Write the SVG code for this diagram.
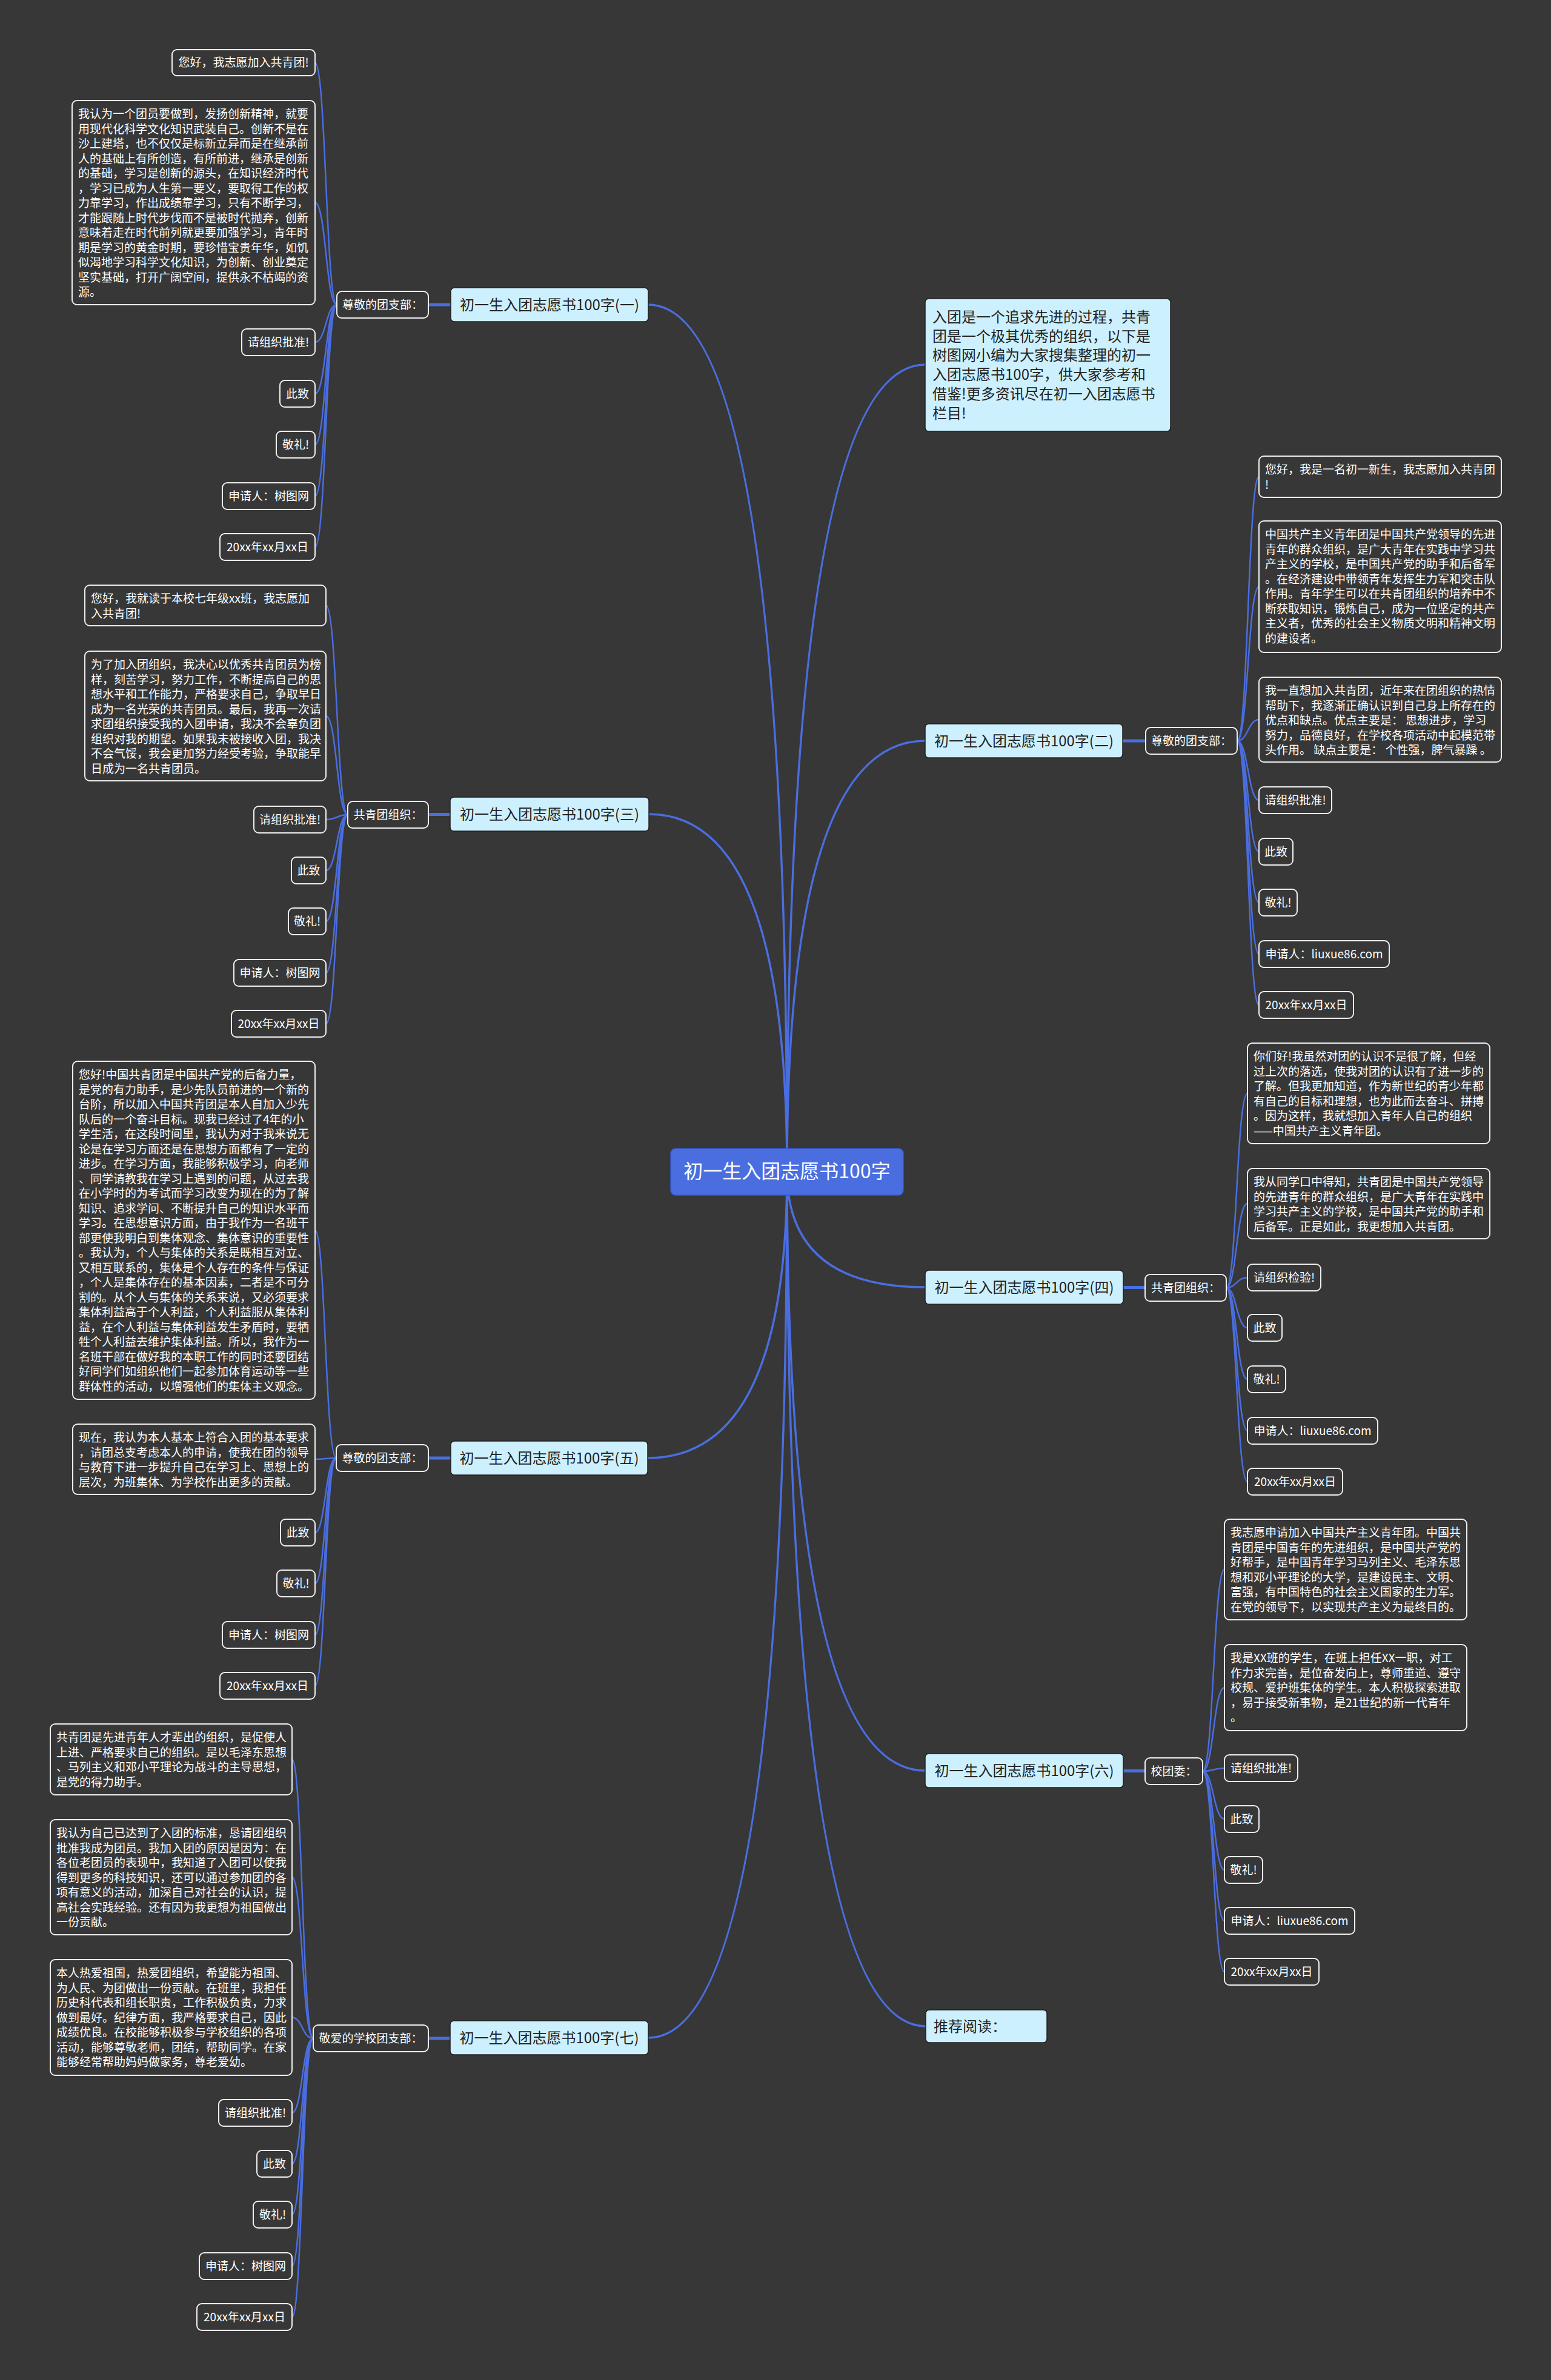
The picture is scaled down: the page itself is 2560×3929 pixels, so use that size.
<svg xmlns="http://www.w3.org/2000/svg" width="2560" height="3929" viewBox="0 0 2560 3929">
<style>
text{font-family:"Noto Sans CJK SC","Microsoft YaHei","Noto Sans",sans-serif}
.leaf rect{fill:#373737;stroke:#eeeeee;stroke-width:2}
.leaf text{fill:#ffffff;font-size:19px}
.c{text-anchor:middle}
.br rect{fill:#cdf0fe;stroke:#1f1f1f;stroke-width:1.5}
.br text{fill:#222222;font-size:24px}
.root rect{fill:#4a6ee0;stroke:#3558c8;stroke-width:1.5}
.root text{fill:#ffffff;font-size:32px;text-anchor:middle}
.main path{fill:none;stroke:#4a6ee0;stroke-width:3.5}
.stem path{fill:none;stroke:#4a6ee0;stroke-width:5}
.sub path{fill:none;stroke:#4a6ee0;stroke-width:2.5}
</style>
<rect width="2560" height="3929" fill="#373737"/>
<g id="connectors">
<g class="main">
<path d="M1299,1934 Q1299,503 1070,503"/>
<path d="M1299,1934 Q1299,602 1527,602"/>
<path d="M1299,1934 Q1299,1223 1527,1223"/>
<path d="M1299,1934 Q1299,1344 1071,1344"/>
<path d="M1299,1934 Q1299,2125 1527,2125"/>
<path d="M1299,1934 Q1299,2407 1069,2407"/>
<path d="M1299,1934 Q1299,2923 1527,2923"/>
<path d="M1299,1934 Q1299,3345 1528,3345"/>
<path d="M1299,1934 Q1299,3364 1070,3364"/>
</g>
<g class="stem">
<path d="M707,503 L744,503"/>
<path d="M1853,1223 L1891,1223"/>
<path d="M707,1344.5 L743,1344.5"/>
<path d="M1854,2125.5 L1890,2125.5"/>
<path d="M707,2407 L744,2407"/>
<path d="M1854,2923.5 L1890,2923.5"/>
<path d="M707,3365 L743,3365"/>
</g>
<g class="sub">
<path d="M556,503 C538,503 538,103.5 520,103.5"/>
<path d="M556,503 C538,503 538,334.5 520,334.5"/>
<path d="M556,503 C538,503 538,565 520,565"/>
<path d="M556,503 C538,503 538,650 520,650"/>
<path d="M556,503 C538,503 538,734 520,734"/>
<path d="M556,503 C538,503 538,819 520,819"/>
<path d="M556,503 C538,503 538,903 520,903"/>

<path d="M2042,1223 C2060,1223 2060,787 2078,787"/>
<path d="M2042,1223 C2060,1223 2060,968.5 2078,968.5"/>
<path d="M2042,1223 C2060,1223 2060,1188 2078,1188"/>
<path d="M2042,1223 C2060,1223 2060,1321 2078,1321"/>
<path d="M2042,1223 C2060,1223 2060,1406 2078,1406"/>
<path d="M2042,1223 C2060,1223 2060,1490 2078,1490"/>
<path d="M2042,1223 C2060,1223 2060,1575 2078,1575"/>
<path d="M2042,1223 C2060,1223 2060,1659 2078,1659"/>

<path d="M574,1345 C556,1345 556,999.5 538,999.5"/>
<path d="M574,1345 C556,1345 556,1182 538,1182"/>
<path d="M574,1345 C556,1345 556,1353 538,1353"/>
<path d="M574,1345 C556,1345 556,1437 538,1437"/>
<path d="M574,1345 C556,1345 556,1521 538,1521"/>
<path d="M574,1345 C556,1345 556,1606 538,1606"/>
<path d="M574,1345 C556,1345 556,1690 538,1690"/>

<path d="M2024,2126 C2041,2126 2041,1805 2059,1805"/>
<path d="M2024,2126 C2041,2126 2041,1987 2059,1987"/>
<path d="M2024,2126 C2041,2126 2041,2109 2059,2109"/>
<path d="M2024,2126 C2041,2126 2041,2192 2059,2192"/>
<path d="M2024,2126 C2041,2126 2041,2277 2059,2277"/>
<path d="M2024,2126 C2041,2126 2041,2362 2059,2362"/>
<path d="M2024,2126 C2041,2126 2041,2446 2059,2446"/>

<path d="M555,2407 C537,2407 537,2031 520,2031"/>
<path d="M555,2407 C537,2407 537,2409 520,2409"/>
<path d="M555,2407 C537,2407 537,2530 520,2530"/>
<path d="M555,2407 C537,2407 537,2614 520,2614"/>
<path d="M555,2407 C537,2407 537,2699 520,2699"/>
<path d="M555,2407 C537,2407 537,2783 520,2783"/>

<path d="M1985,2924 C2003,2924 2003,2591 2021,2591"/>
<path d="M1985,2924 C2003,2924 2003,2786 2021,2786"/>
<path d="M1985,2924 C2003,2924 2003,2919 2021,2919"/>
<path d="M1985,2924 C2003,2924 2003,3003 2021,3003"/>
<path d="M1985,2924 C2003,2924 2003,3087 2021,3087"/>
<path d="M1985,2924 C2003,2924 2003,3171 2021,3171"/>
<path d="M1985,2924 C2003,2924 2003,3255 2021,3255"/>

<path d="M517,3365 C499,3365 499,2904.5 482,2904.5"/>
<path d="M517,3365 C499,3365 499,3099 482,3099"/>
<path d="M517,3365 C499,3365 499,3330.5 482,3330.5"/>
<path d="M517,3365 C499,3365 499,3488 482,3488"/>
<path d="M517,3365 C499,3365 499,3572 482,3572"/>
<path d="M517,3365 C499,3365 499,3656 482,3656"/>
<path d="M517,3365 C499,3365 499,3741 482,3741"/>
<path d="M517,3365 C499,3365 499,3825 482,3825"/>
</g>
</g>

<g id="root" class="root"><rect x="1107" y="1896" width="384" height="77" rx="8"/><text x="1299" y="1945">初一生入团志愿书100字</text></g>

<g id="intro" class="br"><rect x="1527" y="493" width="405" height="219" rx="6"/>
<text x="1539" y="532"><tspan x="1539">入团是一个追求先进的过程，共青</tspan><tspan x="1539" dy="31.7">团是一个极其优秀的组织，以下是</tspan><tspan x="1539" dy="31.7">树图网小编为大家搜集整理的初一</tspan><tspan x="1539" dy="31.7">入团志愿书100字，供大家参考和</tspan><tspan x="1539" dy="31.7">借鉴!更多资讯尽在初一入团志愿书</tspan><tspan x="1539" dy="31.7">栏目!</tspan></text></g>

<!-- Branch 1 -->
<g id="b1" class="br"><rect x="744" y="475" width="326" height="56" rx="6"/><text class="c" x="907" y="511.5">初一生入团志愿书100字(一)</text></g>
<g id="b1s" class="leaf"><rect x="556" y="481" width="151" height="44" rx="8"/><text class="c" x="631.5" y="510">尊敬的团支部：</text></g>
<g id="b1l1" class="leaf"><rect x="284" y="82" width="236" height="43" rx="8"/><text class="c" x="402" y="110">您好，我志愿加入共青团!</text></g>
<g id="b1l2" class="leaf"><rect x="119" y="166" width="401" height="337" rx="8"/><text x="129" y="195"><tspan x="129">我认为一个团员要做到，发扬创新精神，就要</tspan><tspan x="129" dy="24.5">用现代化科学文化知识武装自己。创新不是在</tspan><tspan x="129" dy="24.5">沙上建塔，也不仅仅是标新立异而是在继承前</tspan><tspan x="129" dy="24.5">人的基础上有所创造，有所前进，继承是创新</tspan><tspan x="129" dy="24.5">的基础，学习是创新的源头，在知识经济时代</tspan><tspan x="129" dy="24.5">，学习已成为人生第一要义，要取得工作的权</tspan><tspan x="129" dy="24.5">力靠学习，作出成绩靠学习，只有不断学习，</tspan><tspan x="129" dy="24.5">才能跟随上时代步伐而不是被时代抛弃，创新</tspan><tspan x="129" dy="24.5">意味着走在时代前列就更要加强学习，青年时</tspan><tspan x="129" dy="24.5">期是学习的黄金时期，要珍惜宝贵年华，如饥</tspan><tspan x="129" dy="24.5">似渴地学习科学文化知识，为创新、创业奠定</tspan><tspan x="129" dy="24.5">坚实基础，打开广阔空间，提供永不枯竭的资</tspan><tspan x="129" dy="24.5">源。</tspan></text></g>
<g id="b1l3" class="leaf"><rect x="399" y="543" width="121" height="44" rx="8"/><text class="c" x="459.5" y="572">请组织批准!</text></g>
<g id="b1l4" class="leaf"><rect x="462" y="628" width="58" height="44" rx="8"/><text class="c" x="491" y="657">此致</text></g>
<g id="b1l5" class="leaf"><rect x="456" y="712" width="64" height="44" rx="8"/><text class="c" x="488" y="741">敬礼!</text></g>
<g id="b1l6" class="leaf"><rect x="367" y="797" width="153" height="44" rx="8"/><text class="c" x="443.5" y="826">申请人：树图网</text></g>
<g id="b1l7" class="leaf"><rect x="363" y="881" width="157" height="44" rx="8"/><text class="c" x="441.5" y="910">20xx年xx月xx日</text></g>

<!-- Branch 2 -->
<g id="b2" class="br"><rect x="1527" y="1195" width="326" height="56" rx="6"/><text class="c" x="1690" y="1231.5">初一生入团志愿书100字(二)</text></g>
<g id="b2s" class="leaf"><rect x="1891" y="1201" width="151" height="44" rx="8"/><text class="c" x="1966.5" y="1230">尊敬的团支部：</text></g>
<g id="b2l1" class="leaf"><rect x="2078" y="753" width="400" height="68" rx="8"/><text x="2088" y="782"><tspan x="2088">您好，我是一名初一新生，我志愿加入共青团</tspan><tspan x="2088" dy="24.5">!</tspan></text></g>
<g id="b2l2" class="leaf"><rect x="2078" y="860" width="400" height="217" rx="8"/><text x="2088" y="889"><tspan x="2088">中国共产主义青年团是中国共产党领导的先进</tspan><tspan x="2088" dy="24.5">青年的群众组织，是广大青年在实践中学习共</tspan><tspan x="2088" dy="24.5">产主义的学校，是中国共产党的助手和后备军</tspan><tspan x="2088" dy="24.5">。在经济建设中带领青年发挥生力军和突击队</tspan><tspan x="2088" dy="24.5">作用。青年学生可以在共青团组织的培养中不</tspan><tspan x="2088" dy="24.5">断获取知识，锻炼自己，成为一位坚定的共产</tspan><tspan x="2088" dy="24.5">主义者，优秀的社会主义物质文明和精神文明</tspan><tspan x="2088" dy="24.5">的建设者。</tspan></text></g>
<g id="b2l3" class="leaf"><rect x="2078" y="1118" width="400" height="140" rx="8"/><text x="2088" y="1147"><tspan x="2088">我一直想加入共青团，近年来在团组织的热情</tspan><tspan x="2088" dy="24.5">帮助下，我逐渐正确认识到自己身上所存在的</tspan><tspan x="2088" dy="24.5">优点和缺点。优点主要是：  思想进步，学习</tspan><tspan x="2088" dy="24.5">努力，品德良好，在学校各项活动中起模范带</tspan><tspan x="2088" dy="24.5">头作用。 缺点主要是： 个性强，脾气暴躁 。</tspan></text></g>
<g id="b2l4" class="leaf"><rect x="2078" y="1299" width="120" height="44" rx="8"/><text class="c" x="2138" y="1328">请组织批准!</text></g>
<g id="b2l5" class="leaf"><rect x="2078" y="1384" width="56" height="44" rx="8"/><text class="c" x="2106" y="1413">此致</text></g>
<g id="b2l6" class="leaf"><rect x="2078" y="1468" width="63" height="44" rx="8"/><text class="c" x="2109.5" y="1497">敬礼!</text></g>
<g id="b2l7" class="leaf"><rect x="2078" y="1553" width="215" height="44" rx="8"/><text class="c" x="2185.5" y="1582">申请人：liuxue86.com</text></g>
<g id="b2l8" class="leaf"><rect x="2078" y="1637" width="156" height="44" rx="8"/><text class="c" x="2156" y="1666">20xx年xx月xx日</text></g>

<!-- Branch 3 -->
<g id="b3" class="br"><rect x="743" y="1316" width="328" height="56" rx="6"/><text class="c" x="907" y="1352.5">初一生入团志愿书100字(三)</text></g>
<g id="b3s" class="leaf"><rect x="574" y="1323" width="133" height="44" rx="8"/><text class="c" x="640.5" y="1352">共青团组织：</text></g>
<g id="b3l1" class="leaf"><rect x="140" y="966" width="398" height="67" rx="8"/><text x="150" y="995"><tspan x="150">您好，我就读于本校七年级xx班，我志愿加</tspan><tspan x="150" dy="24.5">入共青团!</tspan></text></g>
<g id="b3l2" class="leaf"><rect x="140" y="1075" width="398" height="214" rx="8"/><text x="150" y="1104"><tspan x="150">为了加入团组织，我决心以优秀共青团员为榜</tspan><tspan x="150" dy="24.5">样，刻苦学习，努力工作，不断提高自己的思</tspan><tspan x="150" dy="24.5">想水平和工作能力，严格要求自己，争取早日</tspan><tspan x="150" dy="24.5">成为一名光荣的共青团员。最后，我再一次请</tspan><tspan x="150" dy="24.5">求团组织接受我的入团申请，我决不会辜负团</tspan><tspan x="150" dy="24.5">组织对我的期望。如果我未被接收入团，我决</tspan><tspan x="150" dy="24.5">不会气馁，我会更加努力经受考验，争取能早</tspan><tspan x="150" dy="24.5">日成为一名共青团员。</tspan></text></g>
<g id="b3l3" class="leaf"><rect x="419" y="1331" width="119" height="44" rx="8"/><text class="c" x="478.5" y="1360">请组织批准!</text></g>
<g id="b3l4" class="leaf"><rect x="481" y="1415" width="57" height="44" rx="8"/><text class="c" x="509.5" y="1444">此致</text></g>
<g id="b3l5" class="leaf"><rect x="476" y="1499" width="62" height="44" rx="8"/><text class="c" x="507" y="1528">敬礼!</text></g>
<g id="b3l6" class="leaf"><rect x="386" y="1584" width="152" height="44" rx="8"/><text class="c" x="462" y="1613">申请人：树图网</text></g>
<g id="b3l7" class="leaf"><rect x="382" y="1668" width="156" height="44" rx="8"/><text class="c" x="460" y="1697">20xx年xx月xx日</text></g>

<!-- Branch 4 -->
<g id="b4" class="br"><rect x="1527" y="2097" width="327" height="56" rx="6"/><text class="c" x="1690.5" y="2133.5">初一生入团志愿书100字(四)</text></g>
<g id="b4s" class="leaf"><rect x="1890" y="2104" width="134" height="44" rx="8"/><text class="c" x="1957" y="2133">共青团组织：</text></g>
<g id="b4l1" class="leaf"><rect x="2059" y="1722" width="400" height="166" rx="8"/><text x="2069" y="1751"><tspan x="2069">你们好!我虽然对团的认识不是很了解，但经</tspan><tspan x="2069" dy="24.5">过上次的落选，使我对团的认识有了进一步的</tspan><tspan x="2069" dy="24.5">了解。但我更加知道，作为新世纪的青少年都</tspan><tspan x="2069" dy="24.5">有自己的目标和理想，也为此而去奋斗、拼搏</tspan><tspan x="2069" dy="24.5">。因为这样，我就想加入青年人自己的组织</tspan><tspan x="2069" dy="24.5">——中国共产主义青年团。</tspan></text></g>
<g id="b4l2" class="leaf"><rect x="2059" y="1929" width="400" height="116" rx="8"/><text x="2069" y="1958"><tspan x="2069">我从同学口中得知，共青团是中国共产党领导</tspan><tspan x="2069" dy="24.5">的先进青年的群众组织，是广大青年在实践中</tspan><tspan x="2069" dy="24.5">学习共产主义的学校，是中国共产党的助手和</tspan><tspan x="2069" dy="24.5">后备军。正是如此，我更想加入共青团。</tspan></text></g>
<g id="b4l3" class="leaf"><rect x="2059" y="2087" width="121" height="44" rx="8"/><text class="c" x="2119.5" y="2116">请组织检验!</text></g>
<g id="b4l4" class="leaf"><rect x="2059" y="2170" width="57" height="44" rx="8"/><text class="c" x="2087.5" y="2199">此致</text></g>
<g id="b4l5" class="leaf"><rect x="2059" y="2255" width="63" height="44" rx="8"/><text class="c" x="2090.5" y="2284">敬礼!</text></g>
<g id="b4l6" class="leaf"><rect x="2059" y="2340" width="215" height="44" rx="8"/><text class="c" x="2166.5" y="2369">申请人：liuxue86.com</text></g>
<g id="b4l7" class="leaf"><rect x="2059" y="2424" width="157" height="44" rx="8"/><text class="c" x="2137.5" y="2453">20xx年xx月xx日</text></g>

<!-- Branch 5 -->
<g id="b5" class="br"><rect x="744" y="2379" width="325" height="56" rx="6"/><text class="c" x="906.5" y="2415.5">初一生入团志愿书100字(五)</text></g>
<g id="b5s" class="leaf"><rect x="555" y="2385" width="152" height="44" rx="8"/><text class="c" x="631" y="2414">尊敬的团支部：</text></g>
<g id="b5l1" class="leaf"><rect x="120" y="1752" width="400" height="558" rx="8"/><text x="130" y="1781"><tspan x="130">您好!中国共青团是中国共产党的后备力量，</tspan><tspan x="130" dy="24.5">是党的有力助手，是少先队员前进的一个新的</tspan><tspan x="130" dy="24.5">台阶，所以加入中国共青团是本人自加入少先</tspan><tspan x="130" dy="24.5">队后的一个奋斗目标。现我已经过了4年的小</tspan><tspan x="130" dy="24.5">学生活，在这段时间里，我认为对于我来说无</tspan><tspan x="130" dy="24.5">论是在学习方面还是在思想方面都有了一定的</tspan><tspan x="130" dy="24.5">进步。在学习方面，我能够积极学习，向老师</tspan><tspan x="130" dy="24.5">、同学请教我在学习上遇到的问题，从过去我</tspan><tspan x="130" dy="24.5">在小学时的为考试而学习改变为现在的为了解</tspan><tspan x="130" dy="24.5">知识、追求学问、不断提升自己的知识水平而</tspan><tspan x="130" dy="24.5">学习。在思想意识方面，由于我作为一名班干</tspan><tspan x="130" dy="24.5">部更使我明白到集体观念、集体意识的重要性</tspan><tspan x="130" dy="24.5">。我认为，个人与集体的关系是既相互对立、</tspan><tspan x="130" dy="24.5">又相互联系的，集体是个人存在的条件与保证</tspan><tspan x="130" dy="24.5">，个人是集体存在的基本因素，二者是不可分</tspan><tspan x="130" dy="24.5">割的。从个人与集体的关系来说，又必须要求</tspan><tspan x="130" dy="24.5">集体利益高于个人利益，个人利益服从集体利</tspan><tspan x="130" dy="24.5">益，在个人利益与集体利益发生矛盾时，要牺</tspan><tspan x="130" dy="24.5">牲个人利益去维护集体利益。所以，我作为一</tspan><tspan x="130" dy="24.5">名班干部在做好我的本职工作的同时还要团结</tspan><tspan x="130" dy="24.5">好同学们如组织他们一起参加体育运动等一些</tspan><tspan x="130" dy="24.5">群体性的活动，以增强他们的集体主义观念。</tspan></text></g>
<g id="b5l2" class="leaf"><rect x="120" y="2351" width="400" height="116" rx="8"/><text x="130" y="2380"><tspan x="130">现在，我认为本人基本上符合入团的基本要求</tspan><tspan x="130" dy="24.5">，请团总支考虑本人的申请，使我在团的领导</tspan><tspan x="130" dy="24.5">与教育下进一步提升自己在学习上、思想上的</tspan><tspan x="130" dy="24.5">层次，为班集体、为学校作出更多的贡献。</tspan></text></g>
<g id="b5l3" class="leaf"><rect x="463" y="2508" width="57" height="44" rx="8"/><text class="c" x="491.5" y="2537">此致</text></g>
<g id="b5l4" class="leaf"><rect x="457" y="2592" width="63" height="44" rx="8"/><text class="c" x="488.5" y="2621">敬礼!</text></g>
<g id="b5l5" class="leaf"><rect x="367" y="2677" width="153" height="44" rx="8"/><text class="c" x="443.5" y="2706">申请人：树图网</text></g>
<g id="b5l6" class="leaf"><rect x="363" y="2761" width="157" height="44" rx="8"/><text class="c" x="441.5" y="2790">20xx年xx月xx日</text></g>

<!-- Branch 6 -->
<g id="b6" class="br"><rect x="1527" y="2895" width="327" height="56" rx="6"/><text class="c" x="1690.5" y="2931.5">初一生入团志愿书100字(六)</text></g>
<g id="b6s" class="leaf"><rect x="1890" y="2902" width="95" height="44" rx="8"/><text class="c" x="1937.5" y="2931">校团委：</text></g>
<g id="b6l1" class="leaf"><rect x="2021" y="2508" width="400" height="166" rx="8"/><text x="2031" y="2537"><tspan x="2031">我志愿申请加入中国共产主义青年团。中国共</tspan><tspan x="2031" dy="24.5">青团是中国青年的先进组织，是中国共产党的</tspan><tspan x="2031" dy="24.5">好帮手，是中国青年学习马列主义、毛泽东思</tspan><tspan x="2031" dy="24.5">想和邓小平理论的大学，是建设民主、文明、</tspan><tspan x="2031" dy="24.5">富强，有中国特色的社会主义国家的生力军。</tspan><tspan x="2031" dy="24.5">在党的领导下，以实现共产主义为最终目的。</tspan></text></g>
<g id="b6l2" class="leaf"><rect x="2021" y="2715" width="400" height="142" rx="8"/><text x="2031" y="2744"><tspan x="2031">我是XX班的学生，在班上担任XX一职，对工</tspan><tspan x="2031" dy="24.5">作力求完善，是位奋发向上，尊师重道、遵守</tspan><tspan x="2031" dy="24.5">校规、爱护班集体的学生。本人积极探索进取</tspan><tspan x="2031" dy="24.5">，易于接受新事物，是21世纪的新一代青年</tspan><tspan x="2031" dy="24.5">。</tspan></text></g>
<g id="b6l3" class="leaf"><rect x="2021" y="2897" width="121" height="44" rx="8"/><text class="c" x="2081.5" y="2926">请组织批准!</text></g>
<g id="b6l4" class="leaf"><rect x="2021" y="2981" width="57" height="44" rx="8"/><text class="c" x="2049.5" y="3010">此致</text></g>
<g id="b6l5" class="leaf"><rect x="2021" y="3065" width="63" height="44" rx="8"/><text class="c" x="2052.5" y="3094">敬礼!</text></g>
<g id="b6l6" class="leaf"><rect x="2021" y="3149" width="215" height="44" rx="8"/><text class="c" x="2128.5" y="3178">申请人：liuxue86.com</text></g>
<g id="b6l7" class="leaf"><rect x="2021" y="3233" width="156" height="44" rx="8"/><text class="c" x="2099" y="3262">20xx年xx月xx日</text></g>

<!-- Recommended -->
<g id="b8" class="br"><rect x="1528" y="3318" width="200" height="54" rx="6"/><text x="1541" y="3353.5">推荐阅读：</text></g>

<!-- Branch 7 -->
<g id="b7" class="br"><rect x="743" y="3336" width="327" height="56" rx="6"/><text class="c" x="906.5" y="3372.5">初一生入团志愿书100字(七)</text></g>
<g id="b7s" class="leaf"><rect x="517" y="3343" width="190" height="44" rx="8"/><text class="c" x="612" y="3372">敬爱的学校团支部：</text></g>
<g id="b7l1" class="leaf"><rect x="83" y="2846" width="399" height="117" rx="8"/><text x="93" y="2875"><tspan x="93">共青团是先进青年人才辈出的组织，是促使人</tspan><tspan x="93" dy="24.5">上进、严格要求自己的组织。是以毛泽东思想</tspan><tspan x="93" dy="24.5">、马列主义和邓小平理论为战斗的主导思想，</tspan><tspan x="93" dy="24.5">是党的得力助手。</tspan></text></g>
<g id="b7l2" class="leaf"><rect x="83" y="3004" width="399" height="190" rx="8"/><text x="93" y="3033"><tspan x="93">我认为自己已达到了入团的标准，恳请团组织</tspan><tspan x="93" dy="24.5">批准我成为团员。我加入团的原因是因为：在</tspan><tspan x="93" dy="24.5">各位老团员的表现中，我知道了入团可以使我</tspan><tspan x="93" dy="24.5">得到更多的科技知识，还可以通过参加团的各</tspan><tspan x="93" dy="24.5">项有意义的活动，加深自己对社会的认识，提</tspan><tspan x="93" dy="24.5">高社会实践经验。还有因为我更想为祖国做出</tspan><tspan x="93" dy="24.5">一份贡献。</tspan></text></g>
<g id="b7l3" class="leaf"><rect x="83" y="3235" width="399" height="191" rx="8"/><text x="93" y="3264"><tspan x="93">本人热爱祖国，热爱团组织，希望能为祖国、</tspan><tspan x="93" dy="24.5">为人民、为团做出一份贡献。在班里，我担任</tspan><tspan x="93" dy="24.5">历史科代表和组长职责，工作积极负责，力求</tspan><tspan x="93" dy="24.5">做到最好。纪律方面，我严格要求自己，因此</tspan><tspan x="93" dy="24.5">成绩优良。在校能够积极参与学校组织的各项</tspan><tspan x="93" dy="24.5">活动，能够尊敬老师，团结，帮助同学。在家</tspan><tspan x="93" dy="24.5">能够经常帮助妈妈做家务，尊老爱幼。</tspan></text></g>
<g id="b7l4" class="leaf"><rect x="361" y="3466" width="121" height="44" rx="8"/><text class="c" x="421.5" y="3495">请组织批准!</text></g>
<g id="b7l5" class="leaf"><rect x="424" y="3550" width="58" height="44" rx="8"/><text class="c" x="453" y="3579">此致</text></g>
<g id="b7l6" class="leaf"><rect x="418" y="3634" width="64" height="44" rx="8"/><text class="c" x="450" y="3663">敬礼!</text></g>
<g id="b7l7" class="leaf"><rect x="329" y="3719" width="153" height="44" rx="8"/><text class="c" x="405.5" y="3748">申请人：树图网</text></g>
<g id="b7l8" class="leaf"><rect x="325" y="3803" width="157" height="44" rx="8"/><text class="c" x="403.5" y="3832">20xx年xx月xx日</text></g>
</svg>
